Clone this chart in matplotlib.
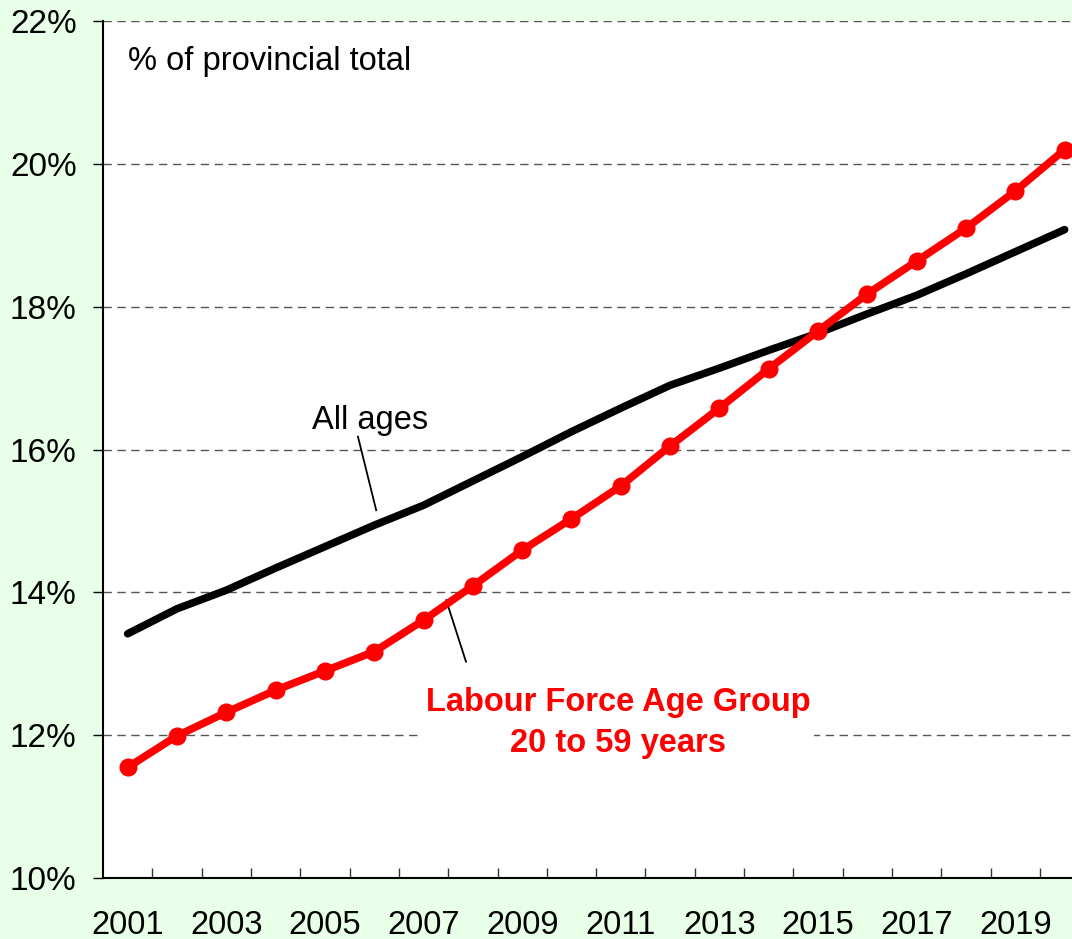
import numpy as np
import matplotlib.pyplot as plt

plt.rcParams['font.family'] = ['Liberation Sans', 'DejaVu Sans']

# --- DATA ---
years = np.arange(2001, 2021)
all_ages = [13.42, 13.77, 14.03, 14.34, 14.64, 14.94, 15.22, 15.56, 15.90, 16.25,
            16.58, 16.90, 17.14, 17.39, 17.63, 17.90, 18.16, 18.46, 18.77, 19.08]
labour_force = [11.55, 11.99, 12.32, 12.63, 12.90, 13.17, 13.61, 14.09, 14.59, 15.03,
                15.49, 16.05, 16.58, 17.13, 17.66, 18.18, 18.64, 19.10, 19.62, 20.20]
y_ticks = [10, 12, 14, 16, 18, 20, 22]
x_labels = [2001, 2003, 2005, 2007, 2009, 2011, 2013, 2015, 2017, 2019]

bg = '#E8FFE8'

fig = plt.figure(figsize=(10.72, 9.39), dpi=100, facecolor=bg)
ax = fig.add_axes([0.0961, 0.065, 0.9039, 0.9125])
ax.set_facecolor('white')

# gridlines
for v in y_ticks[1:]:
    ax.axhline(v, color='#555555', lw=1.0, ls=(0, (6, 4)), zorder=1)

ax.plot(years, all_ages, color='black', lw=5.5, solid_capstyle='round', zorder=3)
ax.plot(years, labour_force, color='#FF0000', lw=5.5, marker='o', ms=12,
        solid_capstyle='round', zorder=4)

# annotations
ax.text(2001.0, 21.44, '% of provincial total', fontsize=23.5, va='center', ha='left')
ax.text(2005.92, 16.40, 'All ages', fontsize=23.5, va='center', ha='center')
ax.plot([2005.67, 2006.04], [16.18, 15.15], color='black', lw=1.3, zorder=2)
ax.plot([2007.46, 2007.86], [13.89, 13.03], color='black', lw=1.3, zorder=2)
ax.text(2010.95, 12.17, 'Labour Force Age Group\n20 to 59 years', fontsize=23.5,
        fontweight='bold', color='#FF0000', ha='center', va='center', linespacing=1.45,
        bbox=dict(facecolor='white', edgecolor='none', pad=2), zorder=2)

ax.set_xlim(2000.5, 2020.15)
ax.set_ylim(10, 22)

ax.set_yticks(y_ticks)
ax.set_yticklabels([f'{v}%' for v in y_ticks], fontsize=24)
ax.tick_params(axis='y', direction='out', length=7, width=1, pad=12)

ax.set_xticks(x_labels)
ax.set_xticklabels([str(v) for v in x_labels], fontsize=23.5)
ax.set_xticks(np.arange(2001.5, 2020.5, 1), minor=True)
ax.tick_params(axis='x', which='major', length=0, pad=23)
ax.tick_params(axis='x', which='minor', direction='in', length=7, width=1, color='#333333')

for s in ['top', 'right']:
    ax.spines[s].set_visible(False)
ax.spines['left'].set_linewidth(1.5)
ax.spines['bottom'].set_linewidth(1.5)

fig.savefig('out.png', dpi=100, facecolor=bg)
